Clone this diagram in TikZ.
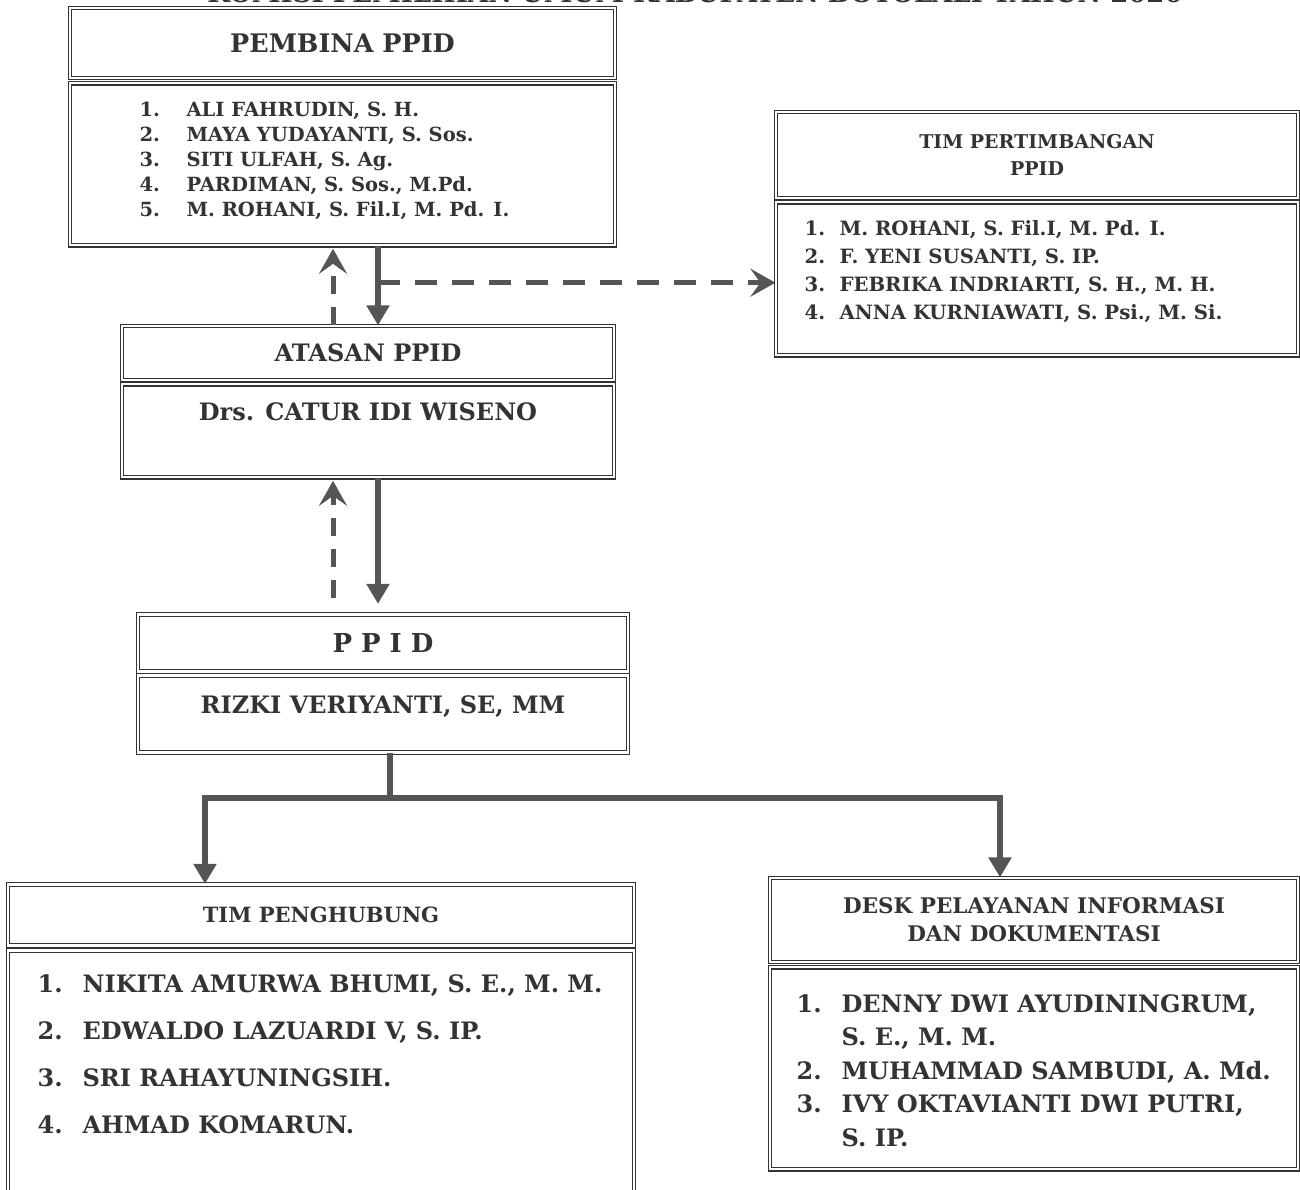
\documentclass[tikz,border=0pt]{standalone}
\usepackage{fontspec}
\setmainfont{DejaVu Serif}
\usetikzlibrary{arrows.meta,positioning}

\definecolor{ink}{HTML}{333333}
\definecolor{wire}{HTML}{555555}

\begin{document}
\begin{tikzpicture}[x=1pt,y=-1pt,node distance=3pt,
    box/.style={draw=ink, double, double distance=2.5pt, line width=1.2pt, fill=white, inner sep=0pt, text=ink, align=center},
    listtext/.style={anchor=north west, inner sep=0pt, text=ink, align=left},
    nametext/.style={anchor=north, inner sep=0pt, text=ink},
    solidarrow/.style={draw=wire, line width=6pt, -{Triangle[length=20pt,width=22pt]}},
    backline/.style={draw=wire, line width=5pt, dash pattern=on 18pt off 13pt, -{Stealth[length=25pt,width=28pt,inset=10pt]}},
    sideline/.style={draw=wire, line width=5pt, dash pattern=on 22pt off 15pt, -{Stealth[length=25pt,width=28pt,inset=10pt]}},
    wireline/.style={draw=wire, line width=6pt}]
\useasboundingbox (0,0) rectangle (1300,1190);

% title (cut off at the top of the page)
\node[text=ink, font=\bfseries\fontsize{26}{30}\selectfont, anchor=base] (title) at (695,3)
  {KOMISI PEMILIHAN UMUM KABUPATEN BOYOLALI TAHUN 2020};

% pembina
\node[box, minimum width=545pt, minimum height=70pt, font=\bfseries\fontsize{25.5}{30}\selectfont] (pembinaHead) at (342.5,43) {PEMBINA PPID};
\node[box, minimum width=545pt, minimum height=162pt, below=4pt of pembinaHead] (pembinaBody) {};
\node[listtext, font=\bfseries\fontsize{19.5}{25}\selectfont] (pembinaList) at ([xshift=70pt,yshift=-16pt]pembinaBody.north west)
  {\begin{tabular}{@{}p{47pt}@{}l@{}}
   1. & ALI FAHRUDIN, S. H.\\
   2. & MAYA YUDAYANTI, S. Sos.\\
   3. & SITI ULFAH, S. Ag.\\
   4. & PARDIMAN, S. Sos., M.Pd.\\
   5. & M. ROHANI, S. Fil.I, M. Pd. I.
   \end{tabular}};

% tim pertimbangan
\node[box, minimum width=522pt, minimum height=86pt, font=\bfseries\fontsize{19}{27}\selectfont] (pertHead) at (1037,155) {TIM PERTIMBANGAN\\PPID};
\node[box, minimum width=522pt, minimum height=153pt, below=3pt of pertHead] (pertBody) {};
\node[listtext, font=\bfseries\fontsize{19.7}{28}\selectfont] (pertList) at ([xshift=29pt,yshift=-14pt]pertBody.north west)
  {\begin{tabular}{@{}p{35pt}@{}l@{}}
   1. & M. ROHANI, S. Fil.I, M. Pd. I.\\
   2. & F. YENI SUSANTI, S. IP.\\
   3. & FEBRIKA INDRIARTI, S. H., M. H.\\
   4. & ANNA KURNIAWATI, S. Psi., M. Si.
   \end{tabular}};

% atasan
\node[box, minimum width=492pt, minimum height=54pt, font=\bfseries\fontsize{24}{28}\selectfont] (atasanHead) at (368,353) {ATASAN PPID};
\node[box, minimum width=492pt, minimum height=93pt, below=3pt of atasanHead] (atasanBody) {};
\node[nametext, font=\bfseries\fontsize{24}{28}\selectfont] (atasanName) at ([yshift=-19pt]atasanBody.north) {Drs. CATUR IDI WISENO};

% ppid
\node[box, minimum width=490pt, minimum height=57pt, font=\bfseries\fontsize{26}{30}\selectfont] (ppidHead) at (383,643)
  {P\hspace{9pt}P\hspace{9pt}I\hspace{9pt}D};
\node[box, minimum width=490pt, minimum height=77pt, below=3pt of ppidHead] (ppidBody) {};
\node[nametext, font=\bfseries\fontsize{24}{28}\selectfont] (ppidName) at ([yshift=-20pt]ppidBody.north) {RIZKI VERIYANTI, SE, MM};

% tim penghubung
\node[box, minimum width=626pt, minimum height=61pt, font=\bfseries\fontsize{21}{26}\selectfont] (penghubungHead) at (321,915) {TIM PENGHUBUNG};
\node[box, minimum width=626pt, minimum height=245pt, below=4pt of penghubungHead] (penghubungBody) {};
\node[listtext, font=\bfseries\fontsize{24}{47}\selectfont] (penghubungList) at ([xshift=30pt,yshift=-9pt]penghubungBody.north west)
  {\begin{tabular}{@{}p{45pt}@{}l@{}}
   1. & NIKITA AMURWA BHUMI, S. E., M. M.\\
   2. & EDWALDO LAZUARDI V, S. IP.\\
   3. & SRI RAHAYUNINGSIH.\\
   4. & AHMAD KOMARUN.
   \end{tabular}};

% desk
\node[box, minimum width=528pt, minimum height=84pt, font=\bfseries\fontsize{21.5}{28}\selectfont] (deskHead) at (1034,920) {DESK PELAYANAN INFORMASI\\DAN DOKUMENTASI};
\node[box, minimum width=528pt, minimum height=202pt, below=4pt of deskHead] (deskBody) {};
\node[listtext, font=\bfseries\fontsize{24}{33.5}\selectfont] (deskList) at ([xshift=27pt,yshift=-22pt]deskBody.north west)
  {\begin{tabular}{@{}p{45pt}@{}l@{}}
   1. & DENNY DWI AYUDININGRUM,\\
      & S. E., M. M.\\
   2. & MUHAMMAD SAMBUDI, A. Md.\\
   3. & IVY OKTAVIANTI DWI PUTRI,\\
      & S. IP.
   \end{tabular}};

% connectors
\coordinate (solidA) at ([xshift=10pt]atasanHead.north);
\coordinate (dashA) at ([xshift=-35pt]atasanHead.north);
\coordinate (solidB) at ([xshift=10pt]atasanBody.south);
\coordinate (dashB) at ([xshift=-35pt]atasanBody.south);
\coordinate (pertIn) at ([yshift=-4pt]pertBody.west);
\coordinate (tap) at (solidA |- pertIn);

\draw[solidarrow] (solidA |- pembinaBody.south) -- (solidA);
\draw[backline, shorten >=3pt] (dashA) -- (dashA |- pembinaBody.south);
\draw[sideline] (tap) -- (pertIn);

\draw[solidarrow, shorten >=10pt] (solidB) -- (solidB |- ppidHead.north);
\draw[backline, shorten <=16pt, shorten >=3pt] (dashB |- ppidHead.north) -- (dashB);

\draw[wireline] ([xshift=7pt]ppidBody.south) -- ++(0,45) coordinate (fork);
\draw[solidarrow] (fork) -| ([xshift=-116pt]penghubungHead.north);
\draw[solidarrow] (fork) -| ([xshift=-34pt]deskHead.north);
\end{tikzpicture}
\end{document}
